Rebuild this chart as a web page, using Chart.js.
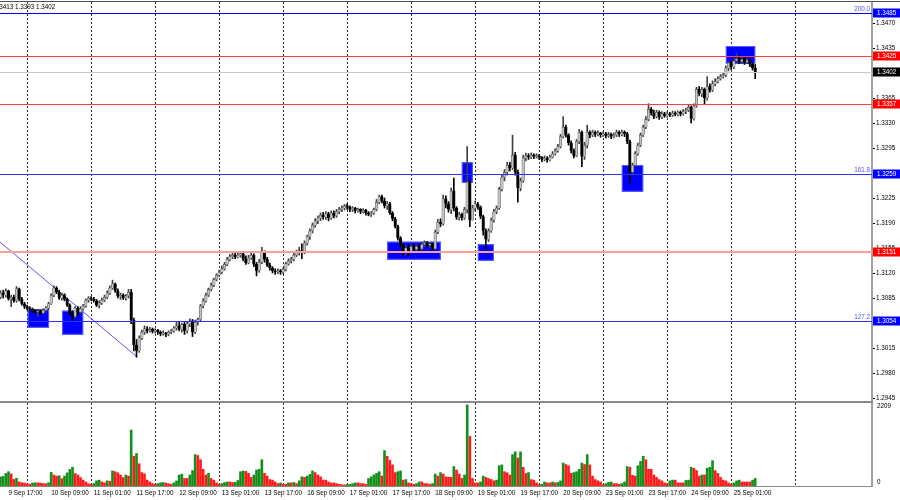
<!DOCTYPE html>
<html lang="en">
<head>
<meta charset="UTF-8">
<title>GBPUSD H1</title>
<script src="https://cdn.jsdelivr.net/npm/chart.js"></script>
<style>
  body { margin: 0; background: #fff; width: 900px; height: 500px; overflow: hidden; position: relative; }
  #priceChart { position: absolute; left: 0; top: 0; }
  #volChart { position: absolute; left: 0; top: 403px; }
</style>
</head>
<body>
<canvas id="priceChart" width="900" height="403"></canvas>
<canvas id="volChart" width="900" height="97"></canvas>
<script>
// H1 bars, bar index 0 = 9 Sep 17:00
const FIRST_BAR = -3;
const firstOpen = 1.3087;

const closes = [
  1.3093,1.3090,1.3096,1.3085,1.3087,1.3082,1.3099,1.3084,1.3078,1.3074,
  1.3072,1.3070,1.3068,1.3066,1.3067,1.3065,1.3069,1.3072,1.3078,1.3090,
  1.3100,1.3094,1.3086,1.3090,1.3084,1.3076,1.3064,1.3060,1.3072,1.3066,
  1.3071,1.3075,1.3083,1.3086,1.3085,1.3082,1.3076,1.3079,1.3083,1.3087,
  1.3093,1.3100,1.3106,1.3096,1.3088,1.3090,1.3086,1.3089,1.3094,1.3055,
  1.3020,1.3012,1.3030,1.3038,1.3043,1.3040,1.3042,1.3039,1.3041,1.3038,
  1.3036,1.3037,1.3035,1.3038,1.3040,1.3044,1.3047,1.3042,1.3049,1.3040,
  1.3050,1.3054,1.3038,1.3052,1.3056,1.3075,1.3082,1.3090,1.3098,1.3104,
  1.3112,1.3118,1.3122,1.3127,1.3133,1.3140,1.3144,1.3146,1.3143,1.3146,
  1.3148,1.3140,1.3135,1.3142,1.3146,1.3133,1.3124,1.3136,1.3150,1.3140,
  1.3132,1.3128,1.3124,1.3122,1.3124,1.3122,1.3126,1.3134,1.3138,1.3140,
  1.3146,1.3150,1.3152,
  1.3150,1.3163,1.3172,1.3180,1.3188,1.3194,1.3198,1.3202,1.3199,1.3204,
  1.3198,1.3205,1.3201,1.3207,1.3210,1.3212,1.3215,1.3213,1.3210,1.3212,
  1.3208,1.3210,1.3207,1.3209,1.3205,1.3203,1.3205,1.3210,1.3220,1.3228,
  1.3222,1.3215,1.3218,1.3205,1.3197,1.3186,1.3170,1.3160,1.3150,1.3156,
  1.3152,1.3158,1.3154,1.3158,1.3155,1.3161,1.3163,1.3160,1.3162,1.3155,
  1.3178,1.3192,1.3190,1.3225,1.3218,1.3210,1.3236,1.3212,1.3199,1.3203,
  1.3198,1.3210,1.3248,1.3195,1.3212,1.3218,1.3213,1.3200,1.3180,1.3168,
  1.3180,1.3195,1.3207,1.3212,1.3238,1.3255,1.3262,1.3272,1.3268,1.3286,
  1.3262,1.3240,1.3250,1.3282,1.3285,1.3283,1.3286,1.3284,1.3285,1.3283,
  1.3280,1.3282,1.3279,1.3283,1.3288,1.3292,1.3298,1.3312,1.3325,1.3314,
  1.3303,1.3292,1.3285,1.3305,1.3318,1.3284,1.3300,1.3318,1.3314,1.3318,
  1.3315,1.3317,1.3314,1.3316,1.3313,1.3315,1.3312,1.3314,1.3318,1.3315,
  1.3318,1.3316,1.3305,1.3262,1.3272,1.3288,1.3300,1.3314,1.3325,1.3336,
  1.3350,1.3345,1.3340,1.3346,1.3339,1.3344,1.3341,1.3344,1.3342,1.3345,
  1.3343,1.3346,1.3344,1.3347,1.3349,1.3353,1.3337,1.3355,1.3378,1.3372,
  1.3378,1.3366,1.3382,1.3377,1.3386,1.3389,1.3393,1.3396,1.3398,1.3408,
  1.3415,1.3409,1.3418,1.3421,1.3417,1.3420,1.3416,1.3419,1.3413,1.3408,1.3402
];

const highs = [
  1.3096,1.3097,1.3099,1.3097,1.3090,1.3090,1.3102,1.3100,1.3087,1.3080,
  1.3076,1.3074,1.3072,1.3070,1.3070,1.3069,1.3071,1.3074,1.3080,1.3092,
  1.3103,1.3102,1.3097,1.3093,1.3092,1.3086,1.3078,1.3068,1.3074,1.3074,
  1.3074,1.3077,1.3085,1.3088,1.3088,1.3087,1.3084,1.3082,1.3086,1.3090,
  1.3096,1.3103,1.3111,1.3107,1.3099,1.3093,1.3092,1.3091,1.3098,1.3098,
  1.3058,1.3028,1.3033,1.3041,1.3047,1.3046,1.3045,1.3044,1.3043,1.3042,
  1.3040,1.3040,1.3038,1.3040,1.3042,1.3046,1.3052,1.3053,1.3051,1.3052,
  1.3053,1.3057,1.3056,1.3055,1.3058,1.3077,1.3085,1.3093,1.3100,1.3107,
  1.3114,1.3120,1.3125,1.3131,1.3136,1.3143,1.3147,1.3150,1.3149,1.3149,
  1.3151,1.3150,1.3145,1.3146,1.3150,1.3148,1.3136,1.3140,1.3157,1.3152,
  1.3143,1.3135,1.3130,1.3127,1.3127,1.3126,1.3128,1.3136,1.3141,1.3143,
  1.3149,1.3153,1.3157,
  1.3162,1.3166,1.3174,1.3183,1.3191,1.3197,1.3201,1.3205,1.3206,1.3207,
  1.3206,1.3208,1.3208,1.3210,1.3213,1.3215,1.3217,1.3218,1.3215,1.3214,
  1.3213,1.3212,1.3211,1.3211,1.3210,1.3207,1.3207,1.3212,1.3224,1.3230,
  1.3230,1.3226,1.3221,1.3220,1.3207,1.3199,1.3188,1.3172,1.3162,1.3160,
  1.3160,1.3161,1.3162,1.3161,1.3160,1.3164,1.3166,1.3165,1.3164,1.3163,
  1.3181,1.3196,1.3197,1.3230,1.3229,1.3221,1.3240,1.3254,1.3214,1.3206,
  1.3205,1.3213,1.3298,1.3250,1.3216,1.3222,1.3220,1.3215,1.3202,1.3183,
  1.3183,1.3198,1.3210,1.3215,1.3241,1.3258,1.3266,1.3276,1.3276,1.3314,
  1.3290,1.3265,1.3254,1.3286,1.3289,1.3288,1.3289,1.3288,1.3288,1.3287,
  1.3284,1.3285,1.3284,1.3286,1.3291,1.3295,1.3301,1.3315,1.3340,1.3328,
  1.3316,1.3306,1.3295,1.3308,1.3322,1.3320,1.3304,1.3328,1.3320,1.3321,
  1.3320,1.3320,1.3318,1.3319,1.3318,1.3318,1.3317,1.3317,1.3321,1.3320,
  1.3321,1.3320,1.3318,1.3307,1.3275,1.3291,1.3303,1.3317,1.3328,1.3340,
  1.3358,1.3353,1.3349,1.3349,1.3348,1.3347,1.3346,1.3347,1.3346,1.3348,
  1.3347,1.3348,1.3348,1.3350,1.3352,1.3356,1.3355,1.3358,1.3381,1.3382,
  1.3381,1.3380,1.3396,1.3386,1.3390,1.3393,1.3396,1.3399,1.3401,1.3411,
  1.3418,1.3417,1.3421,1.3429,1.3424,1.3424,1.3422,1.3422,1.3421,1.3415,1.3413
];

const lows = [
  1.3085,1.3086,1.3087,1.3083,1.3074,1.3080,1.3080,1.3082,1.3076,1.3071,
  1.3069,1.3068,1.3066,1.3064,1.3060,1.3063,1.3064,1.3067,1.3070,1.3077,
  1.3088,1.3092,1.3084,1.3083,1.3082,1.3074,1.3062,1.3053,1.3058,1.3062,
  1.3064,1.3069,1.3073,1.3080,1.3082,1.3080,1.3074,1.3072,1.3077,1.3081,
  1.3085,1.3091,1.3098,1.3094,1.3086,1.3084,1.3084,1.3083,1.3086,1.3050,
  1.3012,1.3003,1.3010,1.3028,1.3035,1.3037,1.3038,1.3037,1.3037,1.3035,
  1.3033,1.3034,1.3032,1.3033,1.3036,1.3038,1.3041,1.3040,1.3038,1.3035,
  1.3037,1.3046,1.3032,1.3036,1.3048,1.3054,1.3072,1.3080,1.3088,1.3096,
  1.3102,1.3110,1.3116,1.3120,1.3125,1.3131,1.3138,1.3141,1.3141,1.3142,
  1.3143,1.3138,1.3133,1.3134,1.3140,1.3130,1.3117,1.3122,1.3134,1.3136,
  1.3130,1.3125,1.3121,1.3119,1.3120,1.3119,1.3120,1.3124,1.3132,1.3135,
  1.3138,1.3144,1.3146,
  1.3141,1.3148,1.3160,1.3168,1.3177,1.3185,1.3190,1.3194,1.3196,1.3196,
  1.3194,1.3196,1.3198,1.3199,1.3204,1.3207,1.3209,1.3210,1.3207,1.3207,
  1.3205,1.3206,1.3204,1.3205,1.3202,1.3201,1.3200,1.3203,1.3208,1.3218,
  1.3219,1.3212,1.3210,1.3203,1.3194,1.3184,1.3167,1.3156,1.3146,1.3146,
  1.3145,1.3149,1.3151,1.3150,1.3152,1.3153,1.3158,1.3157,1.3156,1.3153,
  1.3154,1.3176,1.3186,1.3188,1.3212,1.3206,1.3204,1.3208,1.3196,1.3195,
  1.3195,1.3196,1.3205,1.3186,1.3195,1.3208,1.3210,1.3197,1.3174,1.3155,
  1.3165,1.3178,1.3192,1.3204,1.3210,1.3236,1.3250,1.3258,1.3264,1.3266,
  1.3258,1.3220,1.3236,1.3248,1.3278,1.3280,1.3281,1.3281,1.3282,1.3280,
  1.3277,1.3278,1.3276,1.3278,1.3282,1.3286,1.3290,1.3296,1.3310,1.3311,
  1.3300,1.3289,1.3282,1.3284,1.3302,1.3270,1.3280,1.3296,1.3310,1.3312,
  1.3312,1.3313,1.3311,1.3312,1.3310,1.3311,1.3309,1.3310,1.3312,1.3312,
  1.3313,1.3312,1.3302,1.3246,1.3258,1.3270,1.3286,1.3298,1.3312,1.3323,
  1.3334,1.3342,1.3337,1.3338,1.3336,1.3337,1.3339,1.3339,1.3340,1.3340,
  1.3341,1.3341,1.3341,1.3342,1.3344,1.3347,1.3331,1.3335,1.3353,1.3369,
  1.3368,1.3358,1.3363,1.3374,1.3375,1.3383,1.3387,1.3391,1.3394,1.3396,
  1.3404,1.3406,1.3407,1.3415,1.3414,1.3414,1.3413,1.3414,1.3410,1.3405,1.3393
];

const volumes = [
  250,260,340,390,330,180,210,110,90,80,
  60,50,80,90,85,80,65,60,90,370,
  300,270,280,200,270,360,450,510,340,300,
  230,160,110,60,45,65,140,160,110,85,
  140,130,410,390,360,300,230,300,270,1525,
  810,885,605,365,330,160,110,65,50,65,
  85,95,80,65,45,85,140,300,320,205,
  205,300,420,855,830,715,455,300,345,205,
  160,85,45,65,95,110,110,95,100,150,
  390,410,400,345,235,300,435,455,715,345,
  270,175,160,110,65,85,45,45,85,85,
  95,65,140,250,235,270,315,410,365,300,
  250,160,160,110,85,85,65,45,35,30,
  40,45,65,85,85,65,65,45,205,250,
  300,345,390,270,965,810,700,575,365,390,
  410,160,175,85,65,45,65,110,110,65,
  65,45,65,325,270,365,325,250,240,235,
  530,435,325,205,300,2209,1350,205,85,85,
  110,270,235,205,175,140,160,550,575,390,
  360,300,855,930,765,930,510,340,365,175,
  160,85,35,45,110,85,85,110,85,100,
  140,625,585,550,345,365,390,455,625,585,
  855,575,270,175,140,110,35,65,100,110,
  65,65,45,65,110,530,510,290,270,550,
  670,810,715,455,455,300,235,175,140,85,
  65,140,160,160,85,85,85,150,160,510,
  485,420,270,300,300,485,510,690,420,345,
  235,160,140,85,45,85,140,160,110,110,
  110,110,160,205
];

const dateLabels = ['9 Sep 17:00','10 Sep 09:00','11 Sep 01:00','11 Sep 17:00','12 Sep 09:00',
  '13 Sep 01:00','13 Sep 17:00','16 Sep 09:00','17 Sep 01:00','17 Sep 17:00','18 Sep 09:00',
  '19 Sep 01:00','19 Sep 17:00','20 Sep 09:00','23 Sep 01:00','23 Sep 17:00','24 Sep 09:00','25 Sep 01:00'];
const dateTickBars = [0,16,32,48,64,80,96,112,128,144,160,176,192,208,224,240,256,272];
const gridBars = [7,31,55,79,103,127,151,175,199,223,247,271,295];   // midnight separators
const priceTicks = [1.2945,1.2980,1.3015,1.3050,1.3085,1.3120,1.3155,1.3190,1.3225,1.3260,
  1.3295,1.3330,1.3365,1.3400,1.3435,1.3470];
const volTicks = [0, 2209];

// levels and drawn objects (bar index / price)
const blueLevels = [1.3485, 1.3259, 1.3054];
const fibNames = ['200.0', '161.8', '127.2'];
const redLevels = [1.3425, 1.3357, 1.3151];
const lastPrice = 1.3402;
const headerText = '1.3413 1.3393 1.3402';
const zones = [
  [7.2, 15.2, 1.30702, 1.30444],
  [20.1, 28.0, 1.30682, 1.30346],
  [142.0, 162.1, 1.31648, 1.31396],
  [170.0, 174.1, 1.32760, 1.32474],
  [176.0, 182.0, 1.31612, 1.31382],
  [230.0, 238.0, 1.32721, 1.32348],
  [269.0, 280.0, 1.34388, 1.34140]
];
const trendLine = [[-3.2, 1.31644], [48.1, 1.30038]];

const X_MIN = -3.19, X_MAX = 323.8;
const P_MIN = 1.29418, P_MAX = 1.35004;

Chart.defaults.font.family = "'Liberation Sans', Arial, sans-serif";
Chart.defaults.font.size = 6.3;
Chart.defaults.color = '#000';

const opens = closes.map((c, k) => k === 0 ? firstOpen : closes[k - 1]);
const barX = k => FIRST_BAR + k;
const isBull = closes.map((c, k) => c >= opens[k]);

const wickData = closes.map((c, k) => ({
  x: barX(k),
  y: [Math.min(lows[k], opens[k], c), Math.max(highs[k], opens[k], c)]
}));
const bodyData = closes.map((c, k) => ({ x: barX(k), y: [opens[k], c] }));

const font = (size) => size + "px 'Liberation Sans', Arial, sans-serif";

function tagBox(ctx, y, text, bg) {
  ctx.fillStyle = bg;
  ctx.fillRect(873, Math.round(y) - 4.5, 27, 9);
  ctx.fillStyle = '#fff';
  ctx.font = font(6.3);
  ctx.textAlign = 'left';
  ctx.textBaseline = 'middle';
  ctx.fillText(text, 877, Math.round(y));
}

// dashed day separators, drawn under the bars
function dayLines(chart) {
  const {ctx, scales: {x}, chartArea} = chart;
  ctx.save();
  ctx.strokeStyle = '#303030';
  ctx.lineWidth = 1;
  ctx.setLineDash([2, 2]);
  gridBars.forEach(b => {
    const px = Math.round(x.getPixelForValue(b)) + 0.5;
    ctx.beginPath();
    ctx.moveTo(px, chartArea.top);
    ctx.lineTo(px, chartArea.bottom);
    ctx.stroke();
  });
  ctx.restore();
}

const pricePlugin = {
  id: 'priceExtras',
  beforeDatasetsDraw(chart) {
    const {ctx, scales: {x, y}, chartArea} = chart;
    dayLines(chart);
    ctx.save();
    ctx.beginPath();
    ctx.rect(chartArea.left, chartArea.top, chartArea.width, chartArea.height);
    ctx.clip();
    zones.forEach(z => {
      const x0 = x.getPixelForValue(z[0]), x1 = x.getPixelForValue(z[1]);
      const y0 = y.getPixelForValue(z[2]), y1 = y.getPixelForValue(z[3]);
      ctx.fillStyle = '#0000ff';
      ctx.fillRect(x0, y0, x1 - x0, y1 - y0);
      ctx.strokeStyle = '#5a5aff';
      ctx.lineWidth = 1;
      ctx.strokeRect(x0 + 0.5, y0 + 0.5, x1 - x0 - 1, y1 - y0 - 1);
    });
    ctx.restore();
  },
  afterDatasetsDraw(chart) {
    const {ctx, scales: {y}, chartArea} = chart;
    const hline = (p, color, w) => {
      const py = Math.round(y.getPixelForValue(p)) + (w % 2 ? 0.5 : 0);
      ctx.strokeStyle = color;
      ctx.lineWidth = w;
      ctx.beginPath();
      ctx.moveTo(chartArea.left, py);
      ctx.lineTo(chartArea.right, py);
      ctx.stroke();
    };
    ctx.save();
    hline(lastPrice, '#c8c8c8', 1);
    hline(redLevels[0], '#ff4040', 1);
    hline(redLevels[1], '#ff4040', 1);
    hline(redLevels[2], '#ff9c9c', 2);
    hline(blueLevels[0], '#0000ff', 1);
    hline(blueLevels[1], '#3030ff', 1);
    hline(blueLevels[2], '#3030ff', 1);
    ctx.font = font(6.3);
    ctx.fillStyle = '#5050ff';
    ctx.textAlign = 'right';
    ctx.textBaseline = 'bottom';
    blueLevels.forEach((p, k) => {
      ctx.fillText(fibNames[k], chartArea.right - 2, Math.round(y.getPixelForValue(p)) - 0.5);
    });
    ctx.restore();
  },
  afterDraw(chart) {
    const {ctx, scales: {y}} = chart;
    ctx.save();
    blueLevels.forEach(p => tagBox(ctx, y.getPixelForValue(p), p.toFixed(4), '#0000ff'));
    redLevels.forEach(p => tagBox(ctx, y.getPixelForValue(p), p.toFixed(4), '#ff0000'));
    tagBox(ctx, y.getPixelForValue(lastPrice), lastPrice.toFixed(4), '#000000');
    // header + frame
    ctx.fillStyle = '#000';
    ctx.font = font(6.3);
    ctx.textAlign = 'left';
    ctx.textBaseline = 'middle';
    ctx.fillText(headerText, -6, 7);
    ctx.fillStyle = '#505050';
    ctx.fillRect(0, 1, 900, 1);
    ctx.fillStyle = '#8a8a8a';
    ctx.fillRect(0, 401, 873, 2);
    ctx.restore();
  }
};

new Chart(document.getElementById('priceChart'), {
  type: 'bar',
  data: {
    datasets: [
      {
        data: bodyData,
        grouped: false,
        barThickness: 2.6,
        minBarLength: 1,
        backgroundColor: isBull.map(b => b ? '#c4c4c4' : '#000000'),
        borderColor: isBull.map(b => b ? '#505050' : '#000000'),
        borderWidth: 0.6
      },
      {
        data: wickData,
        grouped: false,
        barThickness: 1,
        backgroundColor: isBull.map(b => b ? '#404040' : '#000000'),
        borderWidth: 0
      },
      {
        type: 'line',
        data: trendLine.map(p => ({x: p[0], y: p[1]})),
        borderColor: '#5858ff',
        borderWidth: 1,
        pointRadius: 0,
        fill: false
      }
    ]
  },
  options: {
    responsive: false,
    animation: false,
    devicePixelRatio: 1,
    layout: {padding: {top: 2, left: 0, right: 0, bottom: 0}},
    plugins: {legend: {display: false}, tooltip: {enabled: false}},
    scales: {
      x: {
        type: 'linear', min: X_MIN, max: X_MAX, offset: false,
        grid: {display: false, offset: false, drawTicks: false},
        border: {display: false},
        ticks: {display: false},
        afterFit: s => { s.height = 2; s.paddingLeft = 0; s.paddingRight = 0; }
      },
      y: {
        position: 'right', min: P_MIN, max: P_MAX,
        grid: {display: true, drawOnChartArea: false, tickLength: 3, color: '#000', tickColor: '#000'},
        border: {display: true, color: '#a0a0a0', width: 2},
        ticks: {padding: 1, color: '#000', callback: v => Number(v).toFixed(4)},
        afterBuildTicks: s => { s.ticks = priceTicks.map(v => ({value: v})); },
        afterFit: s => { s.width = 28; s.paddingTop = 0; s.paddingBottom = 0; }
      }
    }
  },
  plugins: [pricePlugin]
});

// volume panel: green when volume grows, red when it falls
const volColors = volumes.map((v, k) => (k === 0 || v > volumes[k - 1]) ? '#14901a' : '#ff1c1c');

const volPlugin = {
  id: 'volExtras',
  beforeDatasetsDraw(chart) { dayLines(chart); },
  afterDraw(chart) {
    const {ctx, scales: {y}, chartArea} = chart;
    ctx.save();
    ctx.fillStyle = '#000';
    ctx.font = font(6.3);
    ctx.textAlign = 'left';
    ctx.textBaseline = 'top';
    ctx.fillText(String(volTicks[1]), chartArea.right + 5, y.getPixelForValue(volTicks[1]) - 1.5);
    ctx.textBaseline = 'bottom';
    ctx.fillText(String(volTicks[0]), chartArea.right + 5, y.getPixelForValue(volTicks[0]) - 1);
    ctx.restore();
  }
};

new Chart(document.getElementById('volChart'), {
  type: 'bar',
  data: {
    datasets: [{
      data: volumes.map((v, k) => ({x: barX(k), y: v})),
      grouped: false,
      barThickness: 2,
      backgroundColor: volColors,
      borderWidth: 0
    }]
  },
  options: {
    responsive: false,
    animation: false,
    devicePixelRatio: 1,
    layout: {padding: {top: 0, left: 0, right: 0, bottom: 0}},
    plugins: {legend: {display: false}, tooltip: {enabled: false}},
    scales: {
      x: {
        type: 'linear', position: 'bottom', min: X_MIN, max: X_MAX, offset: false,
        grid: {display: false, drawTicks: false, tickLength: 0},
        border: {display: true, color: '#8a8a8a', width: 1},
        ticks: {
          align: 'start', autoSkip: false, maxRotation: 0, minRotation: 0, padding: 3,
          callback: (v, idx) => dateLabels[idx]
        },
        afterBuildTicks: s => { s.ticks = dateTickBars.map(v => ({value: v})); },
        afterFit: s => { s.height = 14; s.paddingLeft = 0; s.paddingRight = 0; }
      },
      y: {
        position: 'right', min: 0, max: 2260,
        grid: {display: false},
        border: {display: true, color: '#a0a0a0', width: 2},
        ticks: {display: false},
        afterFit: s => { s.width = 28; s.paddingTop = 0; s.paddingBottom = 0; }
      }
    }
  },
  plugins: [volPlugin]
});
</script>
</body>
</html>
